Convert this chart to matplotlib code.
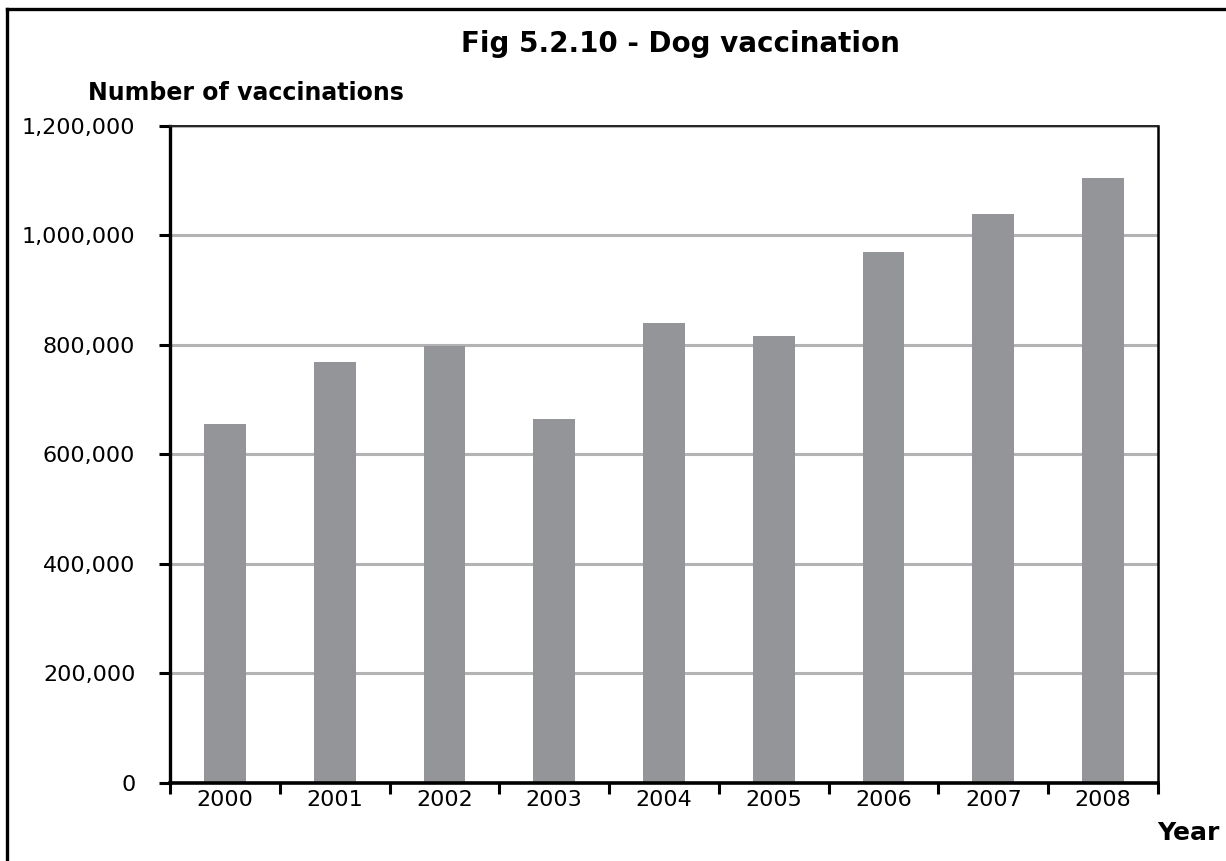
import matplotlib
matplotlib.use("Agg")
import matplotlib.pyplot as plt
from matplotlib.lines import Line2D
from matplotlib.ticker import FuncFormatter, MultipleLocator
import numpy as np

years = ["2000", "2001", "2002", "2003", "2004", "2005", "2006", "2007", "2008"]
vaccinations = [656000, 768000, 798000, 664000, 841000, 816000, 970000, 1039000, 1105000]

plt.rcParams["font.family"] = ["DejaVu Sans"]

fig = plt.figure(figsize=(12.26, 8.61), dpi=100)
ax = fig.add_axes([0.1387, 0.0906, 0.8058, 0.7631])

x = np.arange(len(years))
ax.bar(x, vaccinations, width=0.38, color="#939598", zorder=3)

ax.set_xlim(-0.5, len(years) - 0.5)
ax.set_ylim(0, 1200000)
ax.yaxis.set_major_locator(MultipleLocator(200000))
ax.yaxis.set_major_formatter(FuncFormatter(lambda v, p: f"{int(v):,}"))
ax.grid(axis="y", color="#b3b3b3", linewidth=2.2, zorder=1)

# category labels centred under bars, tick marks between categories
ax.set_xticks(x)
ax.set_xticklabels(years)
ax.set_xticks(np.arange(-0.5, len(years)), minor=True)
ax.tick_params(axis="x", which="major", length=0, pad=5, labelsize=16)
ax.tick_params(axis="x", which="minor", length=8, width=2.2, direction="out", color="black")
ax.tick_params(axis="y", length=8, width=2.2, direction="out", pad=17, labelsize=16)

ax.spines["left"].set_linewidth(2.4)
ax.spines["bottom"].set_linewidth(2.6)
ax.spines["right"].set_linewidth(1.8)
ax.spines["top"].set_linewidth(1.4)
ax.spines["top"].set_color("#222222")
for s in ax.spines.values():
    s.set_zorder(4)

fig.text(0.555, 0.949, "Fig 5.2.10 - Dog vaccination", ha="center", va="center",
         fontsize=20, fontweight="bold")
fig.text(0.072, 0.892, "Number of vaccinations", ha="left", va="center",
         fontsize=17, fontweight="bold")
fig.text(0.944, 0.033, "Year", ha="left", va="center",
         fontsize=18, fontweight="bold")

# outer frame: top and left edges
fig.add_artist(Line2D([0.0057, 1.0], [0.9895, 0.9895], transform=fig.transFigure,
                      color="black", linewidth=2.4))
fig.add_artist(Line2D([0.0057, 0.0057], [0.0, 0.9895], transform=fig.transFigure,
                      color="black", linewidth=2.4))

fig.savefig("out.png", dpi=100)
